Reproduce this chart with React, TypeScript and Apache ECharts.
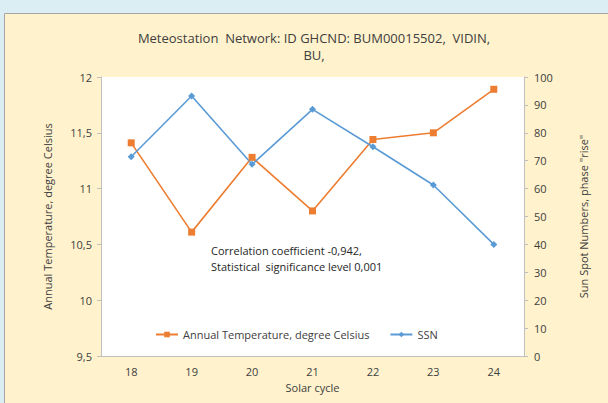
import React, { useEffect, useRef } from "react";
import * as echarts from "echarts";

const categories = ["18", "19", "20", "21", "22", "23", "24"];
const temperature = [11.41, 10.61, 11.28, 10.8, 11.44, 11.5, 11.89];
const ssn = [71.4, 93.2, 68.7, 88.4, 75.0, 61.3, 40.0];
const titleLines = ["Meteostation  Network: ID GHCND: BUM00015502,  VIDIN,", "BU,"];
const noteLines = ["Correlation coefficient -0,942,", "Statistical  significance level 0,001"];

const FONT = "'Open Sans', 'Noto Sans', sans-serif";
const TXT = "#404040";
const AXIS = "#bfbfbf";

export default function App() {
  const ref = useRef<HTMLDivElement>(null);
  useEffect(() => {
    if (!ref.current) return;
    const chart = echarts.init(ref.current, null, { renderer: "svg" });
    chart.setOption({
      animation: false,
      backgroundColor: "#dbeef4",
      textStyle: { fontFamily: FONT },
      title: {
        text: titleLines.join("\n"),
        left: 309,
        textAlign: "center",
        top: 24,
        textStyle: { fontSize: 13, fontWeight: "normal", color: TXT, lineHeight: 17, fontFamily: FONT },
      },
      graphic: [
        {
          type: "rect",
          z: -10,
          shape: { x: 4.5, y: 13.5, width: 620, height: 400 },
          style: { fill: "#fff2cc", stroke: "#a6a6a6", lineWidth: 1 },
        },
        {
          type: "rect",
          z: -9,
          shape: { x: 101, y: 77, width: 423, height: 279 },
          style: { fill: "#ffffff" },
        },
        {
          type: "text",
          left: 211,
          top: 242,
          style: { text: noteLines.join("\n"), fontSize: 11, lineHeight: 16, fill: "#262626", fontFamily: FONT },
        },
      ],
      legend: {
        left: 150,
        top: 324,
        itemGap: 20,
        itemWidth: 22,
        itemHeight: 7,
        textStyle: { fontSize: 11, color: TXT, fontFamily: FONT },
        data: ["Annual Temperature, degree Celsius", "SSN"],
      },
      grid: { left: 101, right: 84, top: 77, bottom: 47 },
      xAxis: {
        type: "category",
        data: categories,
        boundaryGap: true,
        name: "Solar cycle",
        nameLocation: "middle",
        nameGap: 26,
        nameTextStyle: { fontSize: 11, color: TXT },
        axisLine: { lineStyle: { color: AXIS } },
        axisTick: { length: 4, lineStyle: { color: AXIS } },
        axisLabel: { fontSize: 11, color: TXT, margin: 10 },
      },
      yAxis: [
        {
          type: "value",
          min: 9.5,
          max: 12,
          interval: 0.5,
          name: "Annual Temperature, degree Celsius",
          nameLocation: "middle",
          nameGap: 48,
          nameRotate: 90,
          nameTextStyle: { fontSize: 11, color: TXT },
          axisLine: { show: true, lineStyle: { color: AXIS } },
          axisTick: { show: true, length: 4, lineStyle: { color: AXIS } },
          splitLine: { show: false },
          axisLabel: {
            fontSize: 11,
            color: TXT,
            margin: 9,
            formatter: (v: number) => String(v).replace(".", ","),
          },
        },
        {
          type: "value",
          min: 0,
          max: 100,
          interval: 10,
          position: "right",
          name: "Sun Spot Numbers, phase \"rise\"",
          nameLocation: "middle",
          nameGap: 54,
          nameRotate: 90,
          nameTextStyle: { fontSize: 11, color: TXT },
          axisLine: { show: true, lineStyle: { color: AXIS } },
          axisTick: { show: true, length: 4, lineStyle: { color: AXIS } },
          splitLine: { show: false },
          axisLabel: { fontSize: 11, color: TXT, margin: 10 },
        },
      ],
      series: [
        {
          name: "Annual Temperature, degree Celsius",
          type: "line",
          yAxisIndex: 0,
          data: temperature,
          symbol: "rect",
          symbolSize: 7,
          itemStyle: { color: "#ed7d31" },
          lineStyle: { color: "#ed7d31", width: 1.6 },
        },
        {
          name: "SSN",
          type: "line",
          yAxisIndex: 1,
          data: ssn,
          symbol: "diamond",
          symbolSize: 7,
          itemStyle: { color: "#5b9bd5" },
          lineStyle: { color: "#5b9bd5", width: 1.6 },
        },
      ],
    });
    return () => chart.dispose();
  }, []);
  return (
    <div
      ref={ref}
      style={{ position: "absolute", left: 0, top: 0, width: 608, height: 403 }}
    />
  );
}
